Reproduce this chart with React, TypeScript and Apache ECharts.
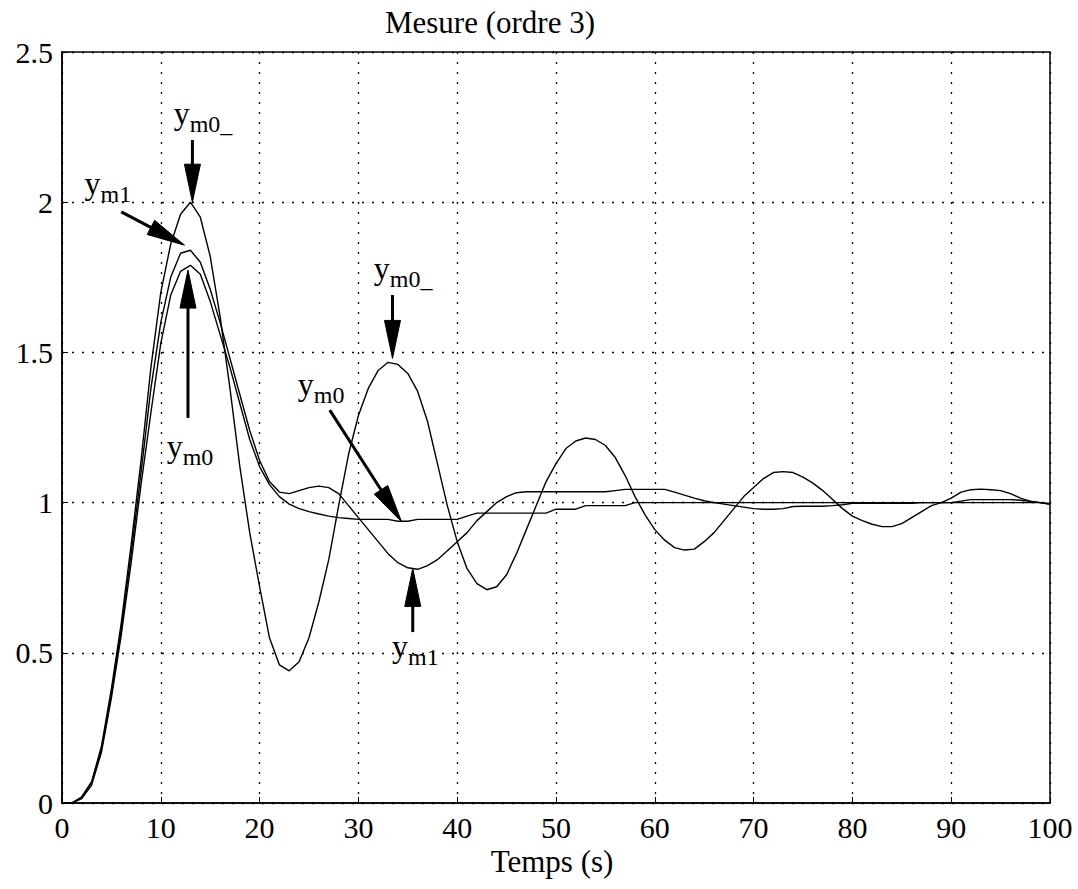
import { useEffect, useRef } from "react";
import * as echarts from "echarts";

// Sample instants (s)
const TIME = [
  0, 1, 2, 3, 4, 5, 6, 7, 8, 9, 10, 11, 12, 13, 14, 15, 16, 17, 18, 19, 20,
  21, 22, 23, 24, 25, 26, 27, 28, 29, 30, 31, 32, 33, 34, 35, 36, 37, 38, 39, 40,
  41, 42, 43, 44, 45, 46, 47, 48, 49, 50, 51, 52, 53, 54, 55, 56, 57, 58, 59, 60,
  61, 62, 63, 64, 65, 66, 67, 68, 69, 70, 71, 72, 73, 74, 75, 76, 77, 78, 79, 80,
  81, 82, 83, 84, 85, 86, 87, 88, 89, 90, 91, 92, 93, 94, 95, 96, 97, 98, 99, 100,
];

// y_m0_ (most oscillatory)
const Y_M0_ = [
  0, 0, 0.02, 0.07, 0.19, 0.38, 0.6, 0.86, 1.14, 1.45, 1.7,
  1.86, 1.96, 2.0, 1.95, 1.82, 1.62, 1.38, 1.12, 0.9, 0.72,
  0.55, 0.46, 0.44, 0.47, 0.55, 0.67, 0.81, 0.99, 1.16, 1.29,
  1.38, 1.44, 1.467, 1.46, 1.43, 1.37, 1.27, 1.13, 0.99, 0.87,
  0.78, 0.73, 0.71, 0.72, 0.76, 0.83, 0.91, 0.99, 1.07, 1.13,
  1.18, 1.205, 1.215, 1.21, 1.19, 1.15, 1.09, 1.02, 0.96, 0.91,
  0.875, 0.85, 0.842, 0.845, 0.87, 0.9, 0.94, 0.98, 1.02, 1.05,
  1.08, 1.1, 1.103, 1.1, 1.085, 1.065, 1.04, 1.01, 0.98, 0.955,
  0.94, 0.928, 0.92, 0.92, 0.93, 0.95, 0.97, 0.99, 1.0, 1.015,
  1.035, 1.043, 1.045, 1.043, 1.04, 1.03, 1.015, 1.005, 1.0, 0.994,
];

// y_m1
const Y_M1 = [
  0, 0, 0.02, 0.07, 0.18, 0.36, 0.58, 0.83, 1.1, 1.38, 1.6,
  1.75, 1.83, 1.84, 1.8, 1.71, 1.6, 1.48, 1.36, 1.24, 1.14,
  1.07, 1.035, 1.03, 1.04, 1.05, 1.055, 1.05, 1.03, 0.99, 0.95,
  0.91, 0.87, 0.83, 0.8, 0.783, 0.778, 0.79, 0.81, 0.84, 0.87,
  0.9, 0.94, 0.97, 1.0, 1.02, 1.033, 1.036, 1.036, 1.036, 1.036,
  1.036, 1.036, 1.036, 1.036, 1.036, 1.04, 1.044, 1.044, 1.044, 1.044,
  1.044, 1.035, 1.025, 1.015, 1.006, 1.0, 0.995, 0.99, 0.985, 0.98,
  0.978, 0.978, 0.98, 0.987, 0.988, 0.988, 0.988, 0.99, 0.993, 0.998,
  0.998, 0.998, 0.998, 0.998, 0.998, 0.998, 1.0, 1.0, 1.0, 1.0,
  1.005, 1.01, 1.01, 1.01, 1.01, 1.01, 1.008, 1.004, 1.0, 0.995,
];

// y_m0
const Y_M0 = [
  0, 0, 0.015, 0.06, 0.17, 0.35, 0.56, 0.8, 1.06, 1.3, 1.53,
  1.69, 1.77, 1.79, 1.76, 1.67, 1.56, 1.45, 1.33, 1.21, 1.12,
  1.06, 1.02, 0.995, 0.98, 0.97, 0.962, 0.955, 0.95, 0.947, 0.944,
  0.944, 0.944, 0.944, 0.938, 0.938, 0.944, 0.944, 0.944, 0.944, 0.944,
  0.955, 0.965, 0.965, 0.965, 0.965, 0.965, 0.965, 0.965, 0.965, 0.978,
  0.978, 0.978, 0.99, 0.99, 0.99, 0.99, 0.99, 1.0, 1.0, 1.0,
  1.0, 1.0, 1.0, 1.0, 1.0, 1.0, 1.0, 1.0, 1.0, 1.0,
  1.0, 1.0, 1.0, 1.0, 1.0, 1.0, 1.0, 1.0, 1.0, 1.0,
  1.0, 1.0, 1.0, 1.0, 1.0, 1.0, 1.0, 1.0, 1.0, 1.0,
  1.0, 1.0, 1.0, 1.0, 1.0, 1.0, 1.0, 1.0, 1.0, 0.997,
];

// Annotation arrows (data coordinates): tail -> tip
const ARROW_TAILS = [
  [13.2, 2.207],
  [6.0, 1.968],
  [12.75, 1.282],
  [33.45, 1.691],
  [27.1, 1.308],
  [35.5, 0.569],
];
const ARROW_TIPS = [
  [13.2, 2.0],
  [12.4, 1.857],
  [12.75, 1.774],
  [33.45, 1.48],
  [34.37, 0.936],
  [35.5, 0.781],
];

// Annotation labels: subscript text and anchor (left edge, baseline) in data coordinates
const LABEL_SUBS = ["m0_", "m1", "m0", "m0_", "m0", "m1"];
const LABEL_ANCHORS = [
  [11.3, 2.26],
  [2.28, 2.027],
  [10.59, 1.152],
  [31.55, 1.744],
  [23.86, 1.358],
  [33.4, 0.486],
];

const TITLE = "Mesure (ordre 3)";
const X_NAME = "Temps (s)";

const FONT = '"Liberation Serif", "Times New Roman", serif';

export default function App() {
  const ref = useRef<HTMLDivElement>(null);

  useEffect(() => {
    if (!ref.current) return;
    const chart = echarts.init(ref.current, undefined, { renderer: "svg" });

    const mk = (arr: number[]) => TIME.map((t, i) => [t, arr[i]]);
    const lineSeries = (name: string, arr: number[]) => ({
      name,
      type: "line",
      data: mk(arr),
      showSymbol: false,
      symbol: "none",
      lineStyle: { color: "#000", width: 1.4 },
      z: 3,
    });

    chart.setOption({
      animation: false,
      backgroundColor: "#fff",
      grid: {
        left: 62,
        right: 28,
        top: 52,
        bottom: 86,
        show: true,
        borderColor: "#000",
        borderWidth: 1.5,
        backgroundColor: "transparent",
      },
      xAxis: {
        type: "value",
        min: 0,
        max: 100,
        interval: 10,
        axisLine: { show: true, lineStyle: { color: "#000", width: 1.5 } },
        axisTick: { show: true, inside: true, length: 6, lineStyle: { color: "#000" } },
        axisLabel: { fontFamily: FONT, fontSize: 30, color: "#000", margin: 9 },
        splitLine: { show: true, lineStyle: { color: "#000", type: [2, 8], width: 1.3 } },
      },
      yAxis: {
        type: "value",
        min: 0,
        max: 2.5,
        interval: 0.5,
        axisLine: { show: true, lineStyle: { color: "#000", width: 1.5 } },
        axisTick: { show: true, inside: true, length: 6, lineStyle: { color: "#000" } },
        axisLabel: { fontFamily: FONT, fontSize: 30, color: "#000", margin: 9 },
        splitLine: { show: true, lineStyle: { color: "#000", type: [2, 8], width: 1.3 } },
      },
      series: [
        lineSeries("y_m0_", Y_M0_),
        lineSeries("y_m1", Y_M1),
        lineSeries("y_m0", Y_M0),
      ],
    });

    const toPx = (p: number[]) =>
      chart.convertToPixel({ xAxisIndex: 0, yAxisIndex: 0 }, p) as number[];

    const graphics: any[] = [];
    graphics.push({
      type: "text",
      x: 490,
      y: 7,
      style: {
        text: TITLE,
        fontFamily: FONT,
        fontSize: 31,
        fill: "#000",
        align: "center",
        verticalAlign: "top",
      },
    });
    graphics.push({
      type: "text",
      x: 552,
      y: 861,
      style: {
        text: X_NAME,
        fontFamily: FONT,
        fontSize: 31,
        fill: "#000",
        align: "center",
        verticalAlign: "middle",
      },
    });

    const HEAD_L = 38;
    const HEAD_W = 8;
    ARROW_TAILS.forEach((tail, i) => {
      const p0 = toPx(tail);
      const p1 = toPx(ARROW_TIPS[i]);
      const dx = p1[0] - p0[0];
      const dy = p1[1] - p0[1];
      const len = Math.sqrt(dx * dx + dy * dy) || 1;
      const ux = dx / len;
      const uy = dy / len;
      const bx = p1[0] - ux * HEAD_L;
      const by = p1[1] - uy * HEAD_L;
      graphics.push({
        type: "line",
        shape: { x1: p0[0], y1: p0[1], x2: bx + ux * 2, y2: by + uy * 2 },
        style: { stroke: "#000", lineWidth: 3 },
        z: 10,
      });
      graphics.push({
        type: "polygon",
        shape: {
          points: [
            [p1[0], p1[1]],
            [bx - uy * HEAD_W, by + ux * HEAD_W],
            [bx + uy * HEAD_W, by - ux * HEAD_W],
          ],
        },
        style: { fill: "#000", stroke: "#000", lineWidth: 1 },
        z: 10,
      });
    });

    LABEL_ANCHORS.forEach((a, i) => {
      const p = toPx(a);
      const base = p[1];
      graphics.push({
        type: "text",
        x: p[0],
        y: base - 0.34 * 32,
        style: {
          text: "y",
          fontFamily: FONT,
          fontSize: 32,
          fill: "#000",
          align: "left",
          verticalAlign: "middle",
        },
        z: 11,
      });
      graphics.push({
        type: "text",
        x: p[0] + 16,
        y: base + 8 - 0.34 * 24,
        style: {
          text: LABEL_SUBS[i],
          fontFamily: FONT,
          fontSize: 24,
          fill: "#000",
          align: "left",
          verticalAlign: "middle",
        },
        z: 11,
      });
    });

    chart.setOption({ graphic: graphics });

    return () => {
      chart.dispose();
    };
  }, []);

  return (
    <div
      ref={ref}
      style={{ position: "fixed", left: 0, top: 0, width: 1078, height: 889, background: "#fff" }}
    />
  );
}
